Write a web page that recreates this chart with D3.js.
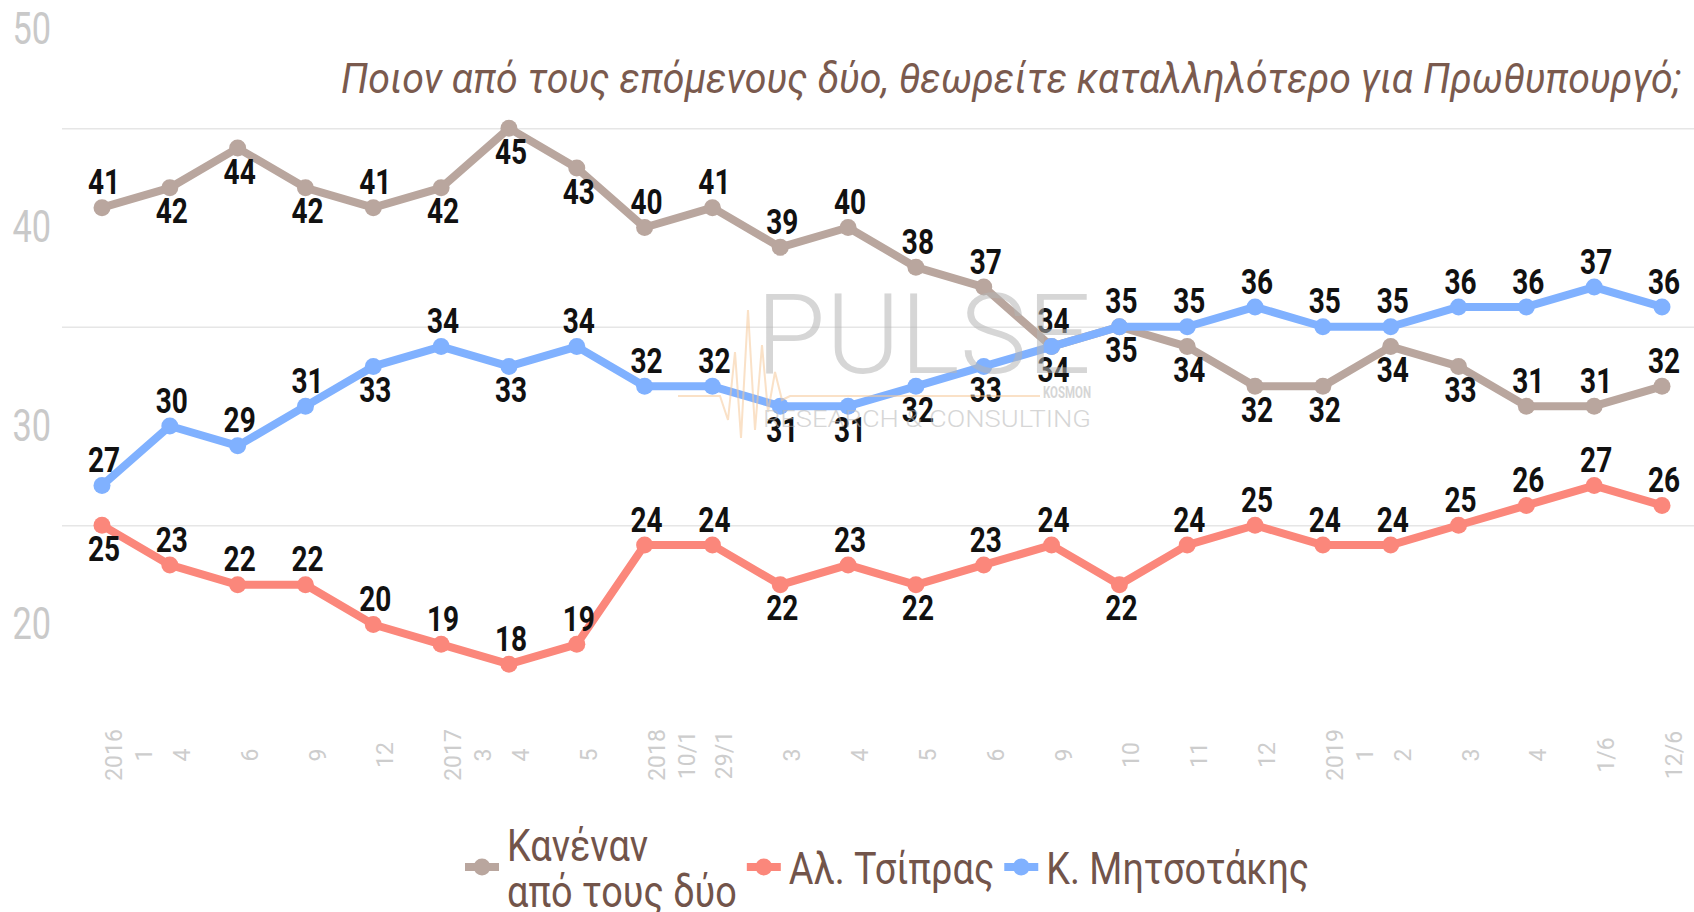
<!DOCTYPE html>
<html>
<head>
<meta charset="utf-8">
<script src="https://cdn.jsdelivr.net/npm/d3@7"></script>
<style>
  body { margin: 0; background: #fff; }
  svg { display: block; font-family: Roboto, "Noto Sans", sans-serif; }
</style>
</head>
<body>
<div id="chart"></div>
<script>
// categories (survey dates), multi-line tick labels
var categories = [["2016","1"],["4"],["6"],["9"],["12"],["2017","3"],["4"],["5"],["2018","10/1"],["29/1"],
  ["3"],["4"],["5"],["6"],["9"],["10"],["11"],["12"],["2019","1"],["2"],["3"],["4"],["1/6"],["12/6"]];

// series values
var noneValues = [41,42,44,42,41,42,45,43,40,41,39,40,38,37,34,35,34,32,32,34,33,31,31,32];
var tsiprasValues = [25,23,22,22,20,19,18,19,24,24,22,23,22,23,24,22,24,25,24,24,25,26,27,26];
var mitsotakisValues = [27,30,29,31,33,34,33,34,32,32,31,31,32,33,34,35,35,36,35,35,36,36,37,36];

// which value labels sit below their point (1) instead of above (0)
var noneBelow = [0,1,1,1,0,1,1,1,0,0,0,0,0,0,0,1,1,1,1,1,1,0,0,0];
var tsiprasBelow = [1,0,0,0,0,0,0,0,0,0,1,0,1,0,0,1,0,0,0,0,0,0,0,0];
var mitsotakisBelow = [0,0,0,0,1,0,1,0,0,0,1,1,1,1,1,0,0,0,0,0,0,0,0,0];

var seriesNames = ["Κανέναν\nαπό τους δύο", "Αλ. Τσίπρας", "Κ. Μητσοτάκης"];
var seriesColors = ["#b9a69e", "#fb877b", "#80b1ff"];

var yTicks = [20, 30, 40, 50];
var gridTicks = [25, 35, 45];

var subtitle = "Ποιον από τους επόμενους δύο, θεωρείτε καταλληλότερο για Πρωθυπουργό;";

var W = 1694, H = 912;
var squeeze = 0.8; // the original type is narrow
var legendSqueeze = 0.86;

var svg = d3.select("#chart").append("svg")
  .attr("width", W)
  .attr("height", H);

var x = d3.scalePoint()
  .domain(d3.range(categories.length))
  .range([102, 1662]);

var y = d3.scaleLinear()
  .domain([20, 50])
  .range([624.5, 29]);

// gridlines
var grid = svg.append("g")
  .attr("transform", "translate(62,0)")
  .call(d3.axisLeft(y).tickValues(gridTicks).tickSize(-(W - 62)).tickFormat(""));
grid.select(".domain").remove();
grid.selectAll("line").attr("stroke", "#e6e6e6").attr("stroke-width", 1.5);

// y axis labels
var yAxis = svg.append("g")
  .attr("transform", "translate(51,0)")
  .call(d3.axisLeft(y).tickValues(yTicks).tickSize(0).tickPadding(0));
yAxis.select(".domain").remove();
yAxis.selectAll("text")
  .attr("fill", "#c9c9c9")
  .style("font-size", "44px")
  .style("font-family", "Roboto")
  .attr("transform", "scale(0.78,1)");

// x labels, rotated, extra lines stack to the right
var xl = svg.append("g").selectAll("text")
  .data(categories)
  .join("text")
  .attr("transform", function (d, i) { return "translate(" + (x(i) + 12) + ",755) rotate(-90)"; })
  .attr("text-anchor", "middle")
  .attr("fill", "#cdcdcd")
  .style("font-size", "23px");
xl.selectAll("tspan")
  .data(function (d) { return d; })
  .join("tspan")
  .attr("x", 0)
  .attr("dy", function (d, i) { return i === 0 ? "0.35em" : 30; })
  .text(function (d) { return d; });

// subtitle
svg.append("text")
  .attr("x", 1681)
  .attr("y", 93)
  .attr("text-anchor", "end")
  .attr("textLength", 1340)
  .attr("lengthAdjust", "spacingAndGlyphs")
  .attr("fill", "#7a5a4e")
  .style("font-size", "43px")
  .style("font-style", "italic")
  .text(subtitle);

// series
var dataset = [
  { name: seriesNames[0], color: seriesColors[0], values: noneValues, below: noneBelow },
  { name: seriesNames[1], color: seriesColors[1], values: tsiprasValues, below: tsiprasBelow },
  { name: seriesNames[2], color: seriesColors[2], values: mitsotakisValues, below: mitsotakisBelow }
];

var line = d3.line()
  .x(function (d, i) { return x(i); })
  .y(function (d) { return y(d); });

var groups = svg.selectAll(".series")
  .data(dataset)
  .join("g")
  .attr("class", "series");

groups.append("path")
  .attr("fill", "none")
  .attr("stroke", function (d) { return d.color; })
  .attr("stroke-width", 8)
  .attr("stroke-linejoin", "round")
  .attr("d", function (d) { return line(d.values); });

groups.selectAll("circle")
  .data(function (d) { return d.values.map(function (v) { return { v: v, c: d.color }; }); })
  .join("circle")
  .attr("cx", function (d, i) { return x(i); })
  .attr("cy", function (d) { return y(d.v); })
  .attr("r", 8.5)
  .attr("fill", function (d) { return d.c; });

// watermark
var wm = svg.append("g").attr("opacity", 0.55);
wm.append("path")
  .attr("fill", "none")
  .attr("stroke", "#f6c99a")
  .attr("stroke-width", 2)
  .attr("d", "M678,396 L720,396 L728,420 L735,352 L741,438 L748,310 L755,430 L762,345 L768,412 L775,372 L782,400 L790,396 L1040,396");
wm.append("text")
  .attr("x", 756).attr("y", 373)
  .attr("textLength", 335).attr("lengthAdjust", "spacingAndGlyphs")
  .attr("fill", "#b5b5b5")
  .style("font-size", "112px").style("font-weight", 300)
  .text("PULSE");
wm.append("text")
  .attr("x", 1043).attr("y", 398)
  .attr("textLength", 48).attr("lengthAdjust", "spacingAndGlyphs")
  .attr("fill", "#b5b5b5")
  .style("font-size", "16px").style("font-weight", 700)
  .text("KOSMON");
wm.append("text")
  .attr("x", 763).attr("y", 427)
  .attr("textLength", 328).attr("lengthAdjust", "spacingAndGlyphs")
  .attr("fill", "#b5b5b5")
  .style("font-size", "23px").style("font-weight", 300)
  .text("RESEARCH & CONSULTING");

// value labels
groups.selectAll(".lbl")
  .data(function (d) { return d.values.map(function (v, i) { return { v: v, b: d.below[i] }; }); })
  .join("text")
  .attr("class", "lbl")
  .attr("transform", function (d, i) {
    var ly = d.b ? y(d.v) + 23 : y(d.v) - 26;
    return "translate(" + (x(i) + 2) + "," + ly + ") scale(" + squeeze + ",1)";
  })
  .attr("text-anchor", "middle")
  .attr("dy", "0.36em")
  .attr("fill", "#111")
  .style("font-size", "35px")
  .style("font-weight", 700)
  .text(function (d) { return d.v; });

// legend
var legend = svg.append("g");
var lx = 465;
dataset.forEach(function (d) {
  var g = legend.append("g");
  g.append("line")
    .attr("x1", lx).attr("x2", lx + 34)
    .attr("y1", 867).attr("y2", 867)
    .attr("stroke", d.color).attr("stroke-width", 8);
  g.append("circle")
    .attr("cx", lx + 17).attr("cy", 867).attr("r", 8.5)
    .attr("fill", d.color);
  var lines = d.name.split("\n");
  var t = g.append("text")
    .attr("transform", "translate(" + (lx + 42) + ",0) scale(" + legendSqueeze + ",1)")
    .attr("fill", "#72544a")
    .style("font-size", "44px");
  lines.forEach(function (s, k) {
    t.append("tspan")
      .attr("x", 0)
      .attr("y", lines.length > 1 ? 846 + k * 46 : 869)
      .attr("dy", "0.35em")
      .text(s);
  });
  var w = d3.max(t.selectAll("tspan").nodes(), function (n) { return n.getComputedTextLength(); }) * legendSqueeze;
  lx = lx + 42 + w + 10;
});
</script>
</body>
</html>
